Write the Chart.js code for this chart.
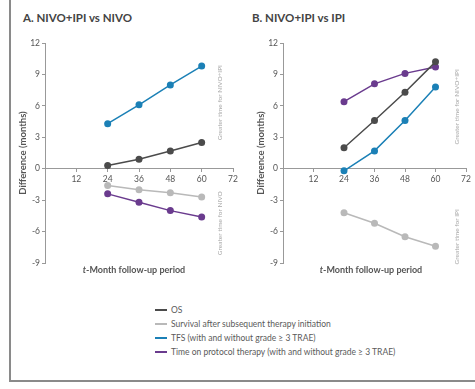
<!DOCTYPE html>
<html>
<head>
<meta charset="utf-8">
<script src="https://cdn.jsdelivr.net/npm/chart.js@4.4.1/dist/chart.umd.min.js"></script>
<style>
  html, body { margin: 0; padding: 0; background: #fff; }
  body { width: 475px; height: 389px; position: relative; overflow: hidden; font-family: "Lato", "Open Sans", sans-serif; }
  .frame { position: absolute; left: 9px; top: -4px; width: 480px; height: 386px; border-left: 2px solid #8a8a8a; border-bottom: 2px solid #8a8a8a; box-sizing: border-box; }
  .panel-title { position: absolute; top: 11px; font-weight: bold; font-size: 11.5px; color: #444; }
  .x-title { position: absolute; top: 264px; font-weight: bold; font-size: 9px; color: #555; text-align: center; width: 160px; }
  canvas { position: absolute; }
  .legend { position: absolute; left: 155px; top: 303px; font-size: 8.5px; color: #5a5a5a; }
  .legend div { height: 14px; line-height: 14px; white-space: nowrap; }
  .legend span { display: inline-block; width: 12px; height: 2px; vertical-align: middle; margin-right: 4px; position: relative; top: -1px; }
</style>
</head>
<body>
<div class="frame"></div>
<div class="panel-title" style="left:23px">A. NIVO+IPI vs NIVO</div>
<div class="panel-title" style="left:252px">B. NIVO+IPI vs IPI</div>
<canvas id="chartA" width="230" height="280" style="left:10px; top:0"></canvas>
<canvas id="chartB" width="235" height="280" style="left:240px; top:0"></canvas>
<div class="x-title" style="left:54px"><i>t</i>-Month follow-up period</div>
<div class="x-title" style="left:291px"><i>t</i>-Month follow-up period</div>
<div class="legend" id="legend"></div>
<script>
// follow-up cut-offs (months)
const months = [24, 36, 48, 60];
const xTicks = [0, 12, 24, 36, 48, 60, 72];

// difference in restricted mean time (months), NIVO+IPI vs NIVO
const osA = [0.3, 0.9, 1.7, 2.5];
const survA = [-1.6, -2.0, -2.3, -2.7];
const tfsA = [4.3, 6.1, 8.0, 9.8];
const topA = [-2.4, -3.2, -4.0, -4.6];

// NIVO+IPI vs IPI
const osB = [2.0, 4.6, 7.3, 10.2];
const survB = [-4.2, -5.2, -6.5, -7.4];
const tfsB = [-0.2, 1.7, 4.6, 7.8];
const topB = [6.4, 8.1, 9.1, 9.7];

const seriesNames = [
  'OS',
  'Survival after subsequent therapy initiation',
  'TFS (with and without grade \u2265 3 TRAE)',
  'Time on protocol therapy (with and without grade \u2265 3 TRAE)'
];
const seriesColors = ['#4b4b4b', '#b9b9b9', '#1b80b6', '#6a3b8e'];

const FONT = '"Lato", "Open Sans", sans-serif';

function toPoints(vals) {
  return vals.map((v, i) => ({ x: months[i], y: v }));
}

function buildDatasets(lists) {
  return lists.map((vals, i) => ({
    label: seriesNames[i],
    data: toPoints(vals),
    borderColor: seriesColors[i],
    backgroundColor: seriesColors[i],
    borderWidth: 1.5,
    pointRadius: 3.5,
    pointBorderWidth: 0,
    tension: 0
  }));
}

// rotated grey notes at the right edge of each plot
const sideNotes = {
  id: 'sideNotes',
  afterDraw(chart, args, opts) {
    const ctx = chart.ctx;
    const xs = chart.scales.x, ys = chart.scales.y;
    ctx.save();
    ctx.font = '6.5px ' + FONT;
    ctx.fillStyle = '#a8a8a8';
    ctx.textAlign = 'center';
    ctx.textBaseline = 'middle';
    opts.notes.forEach(n => {
      ctx.save();
      ctx.translate(xs.getPixelForValue(n.x), ys.getPixelForValue(n.y));
      ctx.rotate(-Math.PI / 2);
      ctx.fillText(n.text, 0, 0);
      ctx.restore();
    });
    ctx.restore();
  }
};

function makeChart(id, lists, padLeft, padRight, notes) {
  return new Chart(document.getElementById(id), {
    type: 'line',
    data: { datasets: buildDatasets(lists) },
    options: {
      responsive: false,
      animation: false,
      layout: { padding: { top: 43, bottom: 17, left: padLeft, right: padRight } },
      plugins: {
        legend: { display: false },
        tooltip: { enabled: false },
        sideNotes: { notes: notes }
      },
      scales: {
        x: {
          type: 'linear',
          min: 0,
          max: 72,
          position: { y: 0 },
          afterBuildTicks: s => { s.ticks = xTicks.map(v => ({ value: v })); },
          ticks: {
            callback: v => (v === 0 ? '' : v),
            color: '#555',
            font: { family: FONT, size: 8.5 },
            padding: 2,
            maxRotation: 0
          },
          grid: { drawOnChartArea: false, tickLength: 3, color: '#999' },
          border: { color: '#999' }
        },
        y: {
          min: -9,
          max: 12,
          ticks: { stepSize: 3, color: '#555', font: { family: FONT, size: 8.5 }, padding: 2 },
          grid: { drawOnChartArea: false, tickLength: 3, color: '#999' },
          border: { color: '#999' },
          title: {
            display: true,
            text: 'Difference (months)',
            color: '#555',
            font: { family: FONT, size: 9.5, weight: 'bold' },
            padding: { top: 7, bottom: 0 }
          },
          afterFit: s => { s.width = 35; }
        }
      }
    },
    plugins: [sideNotes]
  });
}

makeChart('chartA', [osA, survA, tfsA, topA], 0, 7, [
  { x: 67, y: 6.3, text: 'Greater time for NIVO+IPI' },
  { x: 67, y: -5.2, text: 'Greater time for NIVO' }
]);

makeChart('chartB', [osB, survB, tfsB, topB], 8, 9, [
  { x: 68.5, y: 5.9, text: 'Greater time for NIVO+IPI' },
  { x: 68.5, y: -6.5, text: 'Greater time for IPI' }
]);

// legend under both panels
const legend = document.getElementById('legend');
seriesNames.forEach((name, i) => {
  const row = document.createElement('div');
  const swatch = document.createElement('span');
  swatch.style.background = seriesColors[i];
  row.appendChild(swatch);
  row.appendChild(document.createTextNode(name));
  legend.appendChild(row);
});
</script>
</body>
</html>
